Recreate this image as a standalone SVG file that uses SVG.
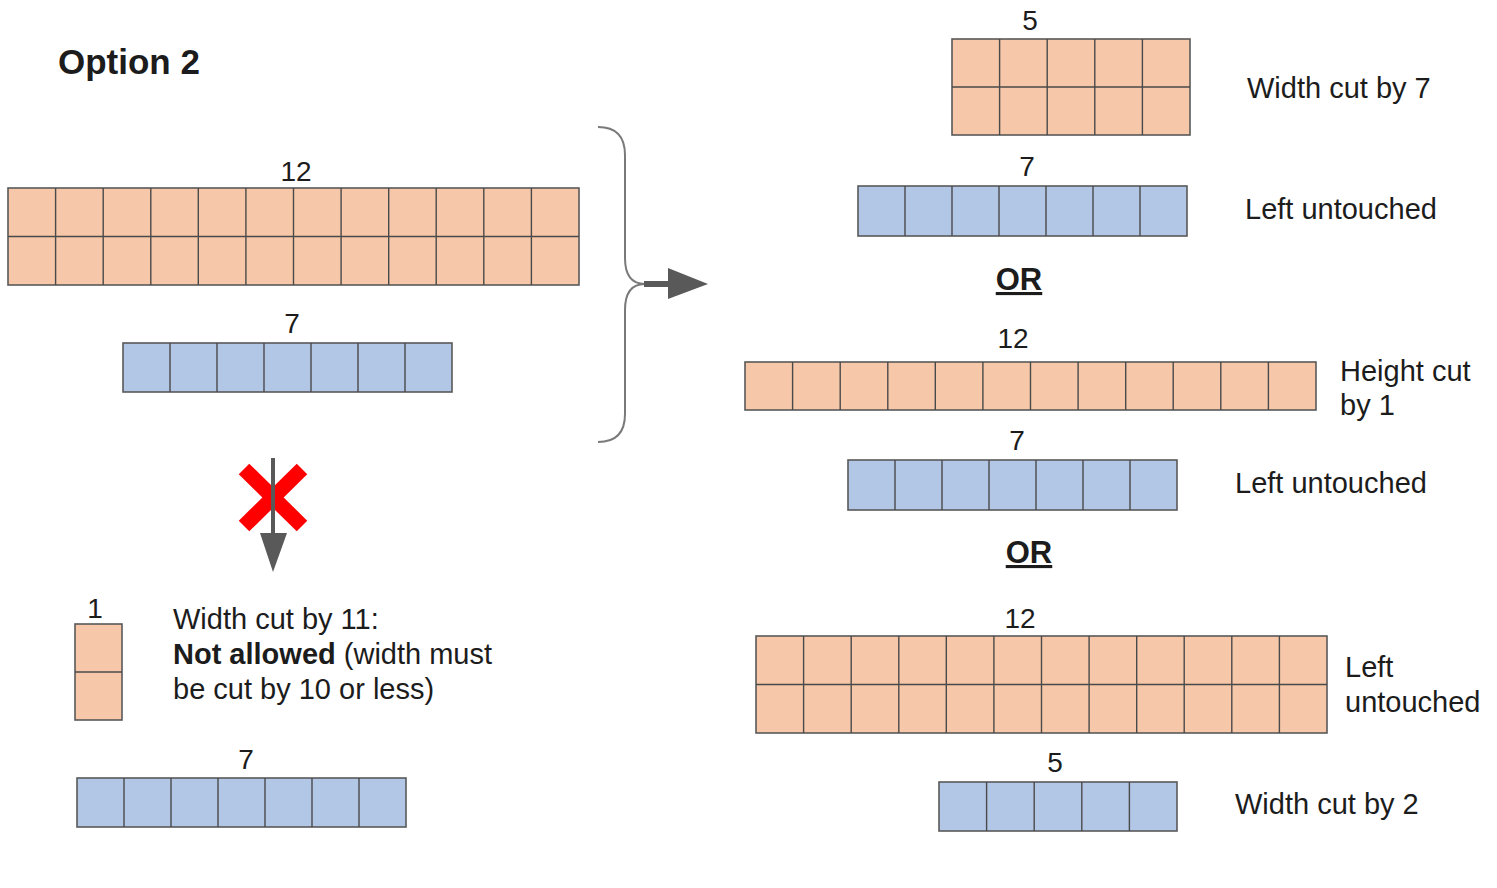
<svg xmlns="http://www.w3.org/2000/svg" width="1497" height="888" viewBox="0 0 1497 888">
<style>
.t{font-family:"Liberation Sans",Arial,sans-serif;font-size:29px;fill:#1c1c1c}
.n{font-family:"Liberation Sans",Arial,sans-serif;font-size:28px;fill:#1c1c1c;text-anchor:middle}
.b{font-weight:bold}
.or{font-family:"Liberation Sans",Arial,sans-serif;font-size:31px;font-weight:bold;fill:#1c1c1c;text-anchor:middle;text-decoration:underline}
.o{fill:#f6c8a9;stroke:#595959;stroke-width:1.6}
.u{fill:#b2c6e6;stroke:#595959;stroke-width:1.6}
.g{fill:none;stroke:#4a4a4a;stroke-width:1.4}
</style>
<rect width="1497" height="888" fill="#ffffff"/>
<text class="t b" x="58" y="74" style="font-size:35px">Option 2</text>

<g id="left-orange-12x2">
<text class="n" x="296" y="181">12</text>
<rect class="o" x="8" y="188" width="571" height="97"/>
<path class="g" d="M55.6,188V285M103.2,188V285M150.8,188V285M198.3,188V285M245.9,188V285M293.5,188V285M341.1,188V285M388.7,188V285M436.2,188V285M483.8,188V285M531.4,188V285M8,236.5H579"/>
</g>
<g id="left-blue-7">
<text class="n" x="292" y="333">7</text>
<rect class="u" x="123" y="343" width="329" height="49"/>
<path class="g" d="M170,343V392M217,343V392M264,343V392M311,343V392M358,343V392M405,343V392"/>
</g>

<g id="bottom-orange-1x2">
<text class="n" x="95" y="618">1</text>
<rect class="o" x="75" y="624" width="47" height="96"/>
<path class="g" d="M75,672H122"/>
</g>
<g id="bottom-text">
<text class="t" x="173" y="629">Width cut by 11:</text>
<text class="t" x="173" y="664"><tspan class="b">Not allowed</tspan> (width must</text>
<text class="t" x="173" y="699">be cut by 10 or less)</text>
</g>
<g id="bottom-blue-7">
<text class="n" x="246" y="769">7</text>
<rect class="u" x="77" y="778" width="329" height="49"/>
<path class="g" d="M124,778V827M171,778V827M218,778V827M265,778V827M312,778V827M359,778V827"/>
</g>

<g id="right-orange-5x2">
<text class="n" x="1030" y="30">5</text>
<rect class="o" x="952" y="39" width="238" height="96"/>
<path class="g" d="M999.6,39V135M1047.2,39V135M1094.8,39V135M1142.4,39V135M952,87H1190"/>
<text class="t" x="1247" y="98">Width cut by 7</text>
</g>
<g id="right-blue-7a">
<text class="n" x="1027" y="176">7</text>
<rect class="u" x="858" y="186" width="329" height="50"/>
<path class="g" d="M905,186V236M952,186V236M999,186V236M1046,186V236M1093,186V236M1140,186V236"/>
<text class="t" x="1245" y="219">Left untouched</text>
</g>
<g id="or1"><text class="or" x="1019" y="290">OR</text></g>
<g id="right-orange-12x1">
<text class="n" x="1013" y="348">12</text>
<rect class="o" x="745" y="362" width="571" height="48"/>
<path class="g" d="M792.6,362V410M840.2,362V410M887.8,362V410M935.3,362V410M982.9,362V410M1030.5,362V410M1078.1,362V410M1125.7,362V410M1173.2,362V410M1220.8,362V410M1268.4,362V410"/>
<text class="t" x="1340" y="381">Height cut</text>
<text class="t" x="1340" y="415">by 1</text>
</g>
<g id="right-blue-7b">
<text class="n" x="1017" y="450">7</text>
<rect class="u" x="848" y="460" width="329" height="50"/>
<path class="g" d="M895,460V510M942,460V510M989,460V510M1036,460V510M1083,460V510M1130,460V510"/>
<text class="t" x="1235" y="493">Left untouched</text>
</g>
<g id="or2"><text class="or" x="1029" y="563">OR</text></g>
<g id="right-orange-12x2">
<text class="n" x="1020" y="628">12</text>
<rect class="o" x="756" y="636" width="571" height="97"/>
<path class="g" d="M803.6,636V733M851.2,636V733M898.8,636V733M946.3,636V733M993.9,636V733M1041.5,636V733M1089.1,636V733M1136.7,636V733M1184.2,636V733M1231.8,636V733M1279.4,636V733M756,684.5H1327"/>
<text class="t" x="1345" y="677">Left</text>
<text class="t" x="1345" y="712">untouched</text>
</g>
<g id="right-blue-5">
<text class="n" x="1055" y="772">5</text>
<rect class="u" x="939" y="782" width="238" height="49"/>
<path class="g" d="M986.6,782V831M1034.2,782V831M1081.8,782V831M1129.4,782V831"/>
<text class="t" x="1235" y="814">Width cut by 2</text>
</g>

<g id="connectors">
<path d="M598,127 Q625,127 625,155 L625,258 Q625,284 645,284 Q625,284 625,310 L625,414 Q625,442 598,442" fill="none" stroke="#7a7a7a" stroke-width="2"/>
<line x1="644" y1="284" x2="672" y2="284" stroke="#595959" stroke-width="6"/>
<polygon points="668,268 708,284 668,299" fill="#595959"/>
<line x1="244" y1="469" x2="302" y2="526" stroke="#ff0000" stroke-width="15"/>
<line x1="302" y1="469" x2="244" y2="526" stroke="#ff0000" stroke-width="15"/>
<line x1="273" y1="458" x2="273" y2="535" stroke="#595959" stroke-width="4"/>
<polygon points="260,533 287,533 273,572" fill="#595959"/>
</g>
</svg>
